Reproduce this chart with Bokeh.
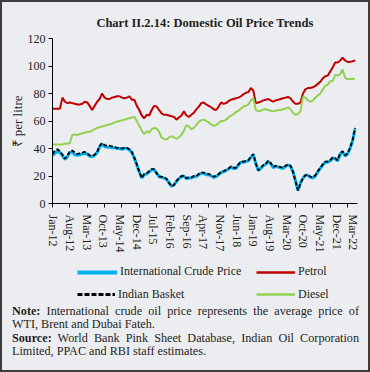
from bokeh.plotting import figure
from bokeh.embed import file_html
from bokeh.resources import INLINE
from bokeh.layouts import column
from bokeh.models import (FixedTicker, CustomJSTickFormatter, Range1d,
                          Legend, LegendItem, Div)

# ---------------- data (monthly, Jan-12 .. Mar-22) ----------------
tick_labels = ["Jan-12", "Aug-12", "Mar-13", "Oct-13", "May-14", "Dec-14", "Jul-15",
               "Feb-16", "Sep-16", "Apr-17", "Nov-17", "Jun-18", "Jan-19", "Aug-19",
               "Mar-20", "Oct-20", "May-21", "Dec-21", "Mar-22"]

petrol = [69, 69, 69, 69, 77, 74, 73, 73.5, 73, 72.5, 72, 72,
          72.5, 74, 73.5, 71, 68, 71, 74, 76, 80, 77, 76, 76,
          77, 77.5, 78, 78, 77, 76.5, 77, 78, 75.5, 75.5, 71, 68,
          64, 62, 64.5, 64, 68, 71, 70.5, 68, 65.5, 64.5, 64.5, 64,
          63.5, 63, 61, 62.5, 64, 67, 64, 63, 64.5, 66, 68.5, 70.5,
          73, 73.5, 72, 71, 70, 68.5, 68, 70.5, 73.5, 72.5, 73, 74.5,
          75.5, 76, 76.5, 77, 78, 79.5, 80.5, 81, 84, 82, 73, 73.5,
          74, 75, 75.5, 76, 75, 74, 75, 75.5, 76, 76.5, 77, 77.5,
          76.5, 74, 72.5, 72.5, 73.5, 80, 83, 84, 84, 84.5, 85.5, 87,
          88.5, 91, 92.5, 93, 96, 99, 102.5, 102.5, 104, 106, 104, 103,
          103, 103.5, 104]

diesel = [43, 43, 43, 43, 43, 43.5, 43.5, 44, 50, 50, 50, 50.5,
          51, 51.5, 52, 52, 53, 54, 55, 55.5, 56, 56.5, 57, 57.5,
          58, 59, 59.5, 60, 60.5, 61, 61.5, 62, 62.5, 63, 60, 56.5,
          53, 50.5, 52.5, 51.5, 54, 55, 54.5, 52, 48, 47, 46.5, 48,
          49, 48, 47, 48, 50, 53, 57, 56, 54, 55, 57, 59.5,
          60.5, 61, 60, 59, 57.5, 56.5, 57, 58.5, 60, 60, 61, 62.5,
          64, 65, 66.5, 67.5, 69, 70.5, 71, 72, 75, 76.5, 68, 67,
          67.5, 68.5, 68.5, 68, 67.5, 67, 67.5, 68, 68, 68.5, 69, 70,
          68.5, 66, 64.5, 65, 67, 77.5, 77, 75, 74, 75, 77, 78.5,
          80, 83, 85.5, 86.5, 89, 89, 93.5, 93, 94, 97.5, 91.5, 90.5,
          90.5, 90.5, 91]

intl_crude = [35, 36.5, 38, 37, 35, 32, 34, 37, 37.5, 35.5, 35, 35.5,
              36, 36.5, 36, 34.5, 34, 35, 37, 41, 43, 41.5, 41, 41,
              40.5, 40.5, 40, 40, 39.5, 40, 40, 39, 37, 33, 28, 23,
              18.5, 21, 21.5, 23, 24.5, 24.5, 22, 19.5, 19, 18.5, 17.5, 15,
              12.5, 13.5, 16, 18, 19.5, 20, 18, 18.5, 18.5, 19.5, 19.5, 21,
              22, 22, 21, 21, 20, 19, 19.5, 21, 22.5, 23, 24, 25,
              26.5, 25.5, 25.5, 28, 30, 30, 30.5, 31, 33.5, 35.5, 29, 24,
              25.5, 27.5, 28.5, 30.5, 29, 26, 27, 26.5, 26, 25.5, 27, 28,
              27, 23, 16.5, 9.5, 15, 18.5, 20.5, 20.5, 19, 18.5, 20, 23,
              25.5, 28, 30, 30, 31, 33, 32.5, 31, 36, 37.5, 34.5, 36,
              40, 45.5, 54]

indian_basket = [36, 38.5, 39.5, 38, 35.5, 32.5, 35, 38, 38.5, 37, 36, 36.5,
                 37, 37.5, 36.5, 35, 34.5, 35.5, 37.5, 42, 44, 42.5, 42, 42,
                 41.5, 41, 40.5, 40.5, 40, 40.5, 40.5, 39.5, 37.5, 33.5, 28.5, 23,
                 18.5, 21.5, 22, 23.5, 25, 25, 22, 19.5, 19.5, 19, 18, 15,
                 12.5, 13.5, 16.5, 18.5, 20, 20, 18.5, 19, 19, 20, 20, 21.5,
                 22.5, 22.5, 21.5, 21.5, 20.5, 19.5, 20, 21.5, 23, 23.5, 24.5, 25.5,
                 27, 26, 26, 28.5, 30.5, 30.5, 31, 31.5, 34, 36, 29, 24,
                 26, 28, 29, 31, 29.5, 26.5, 27.5, 27, 26.5, 26, 27.5, 28.5,
                 27.5, 23, 16, 9.5, 14.5, 18.5, 20.5, 21, 19.5, 19, 20.5, 23.5,
                 26, 28.5, 30.5, 30.5, 31.5, 33.5, 33, 31.5, 36.5, 38, 35, 36.5,
                 40.5, 46, 55]

series_names = ["International Crude Price", "Petrol", "Indian Basket", "Diesel"]

months = list(range(len(petrol)))

# ---------------- styling ----------------
BG = "#ECEDF1"
FONT = "Liberation Serif"
TXT = "#231F20"
C_CRUDE, C_PETROL, C_BASKET, C_DIESEL = "#00B0F0", "#C00000", "black", "#92D050"

p = figure(width=366, height=253, x_range=Range1d(0, 123), y_range=Range1d(0, 120),
           output_backend="svg", toolbar_location=None,
           min_border_left=50, min_border_right=11, min_border_top=36, min_border_bottom=48,
           background_fill_color=BG, border_fill_color=BG)
p.outline_line_color = None
p.grid.visible = False

p.title.text = "Chart II.2.14: Domestic Oil Price Trends"
p.title.align = "center"
p.title.text_font = FONT
p.title.text_font_size = "12.5px"
p.title.text_font_style = "bold"
p.title.text_color = TXT
p.title.standoff = 18

p.line(months, intl_crude, line_color=C_CRUDE, line_width=3)
p.line(months, indian_basket, line_color=C_BASKET, line_width=1.8, line_dash="4 2")
p.line(months, petrol, line_color=C_PETROL, line_width=2)
p.line(months, diesel, line_color=C_DIESEL, line_width=2)

# x axis: tick marks every 7 months (minor), labels evenly spread (major)
label_pos = [0.4 + k * 6.72 for k in range(len(tick_labels))]
xa = p.xaxis[0]
xa.ticker = FixedTicker(ticks=label_pos, minor_ticks=list(range(0, 120, 7)))
xa.formatter = CustomJSTickFormatter(args=dict(labels=tick_labels), code="return labels[index];")
xa.major_tick_out = 0
xa.major_tick_in = 0
xa.minor_tick_out = 4
xa.minor_tick_in = 0
xa.minor_tick_line_color = "black"
xa.axis_line_color = "black"
xa.major_label_orientation = "vertical"
xa.major_label_standoff = 7
xa.major_label_text_font = FONT
xa.major_label_text_font_size = "12px"
xa.major_label_text_color = TXT

ya = p.yaxis[0]
ya.ticker = FixedTicker(ticks=[0, 20, 40, 60, 80, 100, 120])
ya.minor_tick_line_color = None
ya.major_tick_out = 4
ya.major_tick_in = 0
ya.major_tick_line_color = "black"
ya.axis_line_color = "black"
ya.major_label_standoff = 3
ya.major_label_text_font = FONT
ya.major_label_text_font_size = "12px"
ya.major_label_text_color = TXT
ya.axis_label = "₹ per litre"
ya.axis_label_standoff = 0
ya.axis_label_text_font = FONT
ya.axis_label_text_font_size = "13px"
ya.axis_label_text_font_style = "normal"
ya.axis_label_text_color = TXT

# ---------------- legend strip ----------------
# the series are drawn again here, but outside this strip's visible ranges,
# so only their legend samples show
pl = figure(width=366, height=50, x_range=Range1d(0, 1), y_range=Range1d(-2, -1),
            output_backend="svg", toolbar_location=None,
            x_axis_location=None, y_axis_location=None,
            min_border_left=0, min_border_right=0, min_border_top=0, min_border_bottom=0,
            background_fill_color=BG, border_fill_color=BG)
pl.outline_line_color = None
pl.grid.visible = False

lr_crude = pl.line(months, intl_crude, line_color=C_CRUDE, line_width=4)
lr_petrol = pl.line(months, petrol, line_color=C_PETROL, line_width=2.5)
lr_basket = pl.line(months, indian_basket, line_color=C_BASKET, line_width=3, line_dash="5 2")
lr_diesel = pl.line(months, diesel, line_color=C_DIESEL, line_width=2.5)

def add_legend(name, rend, loc, gw):
    lg = Legend(items=[LegendItem(label=name, renderers=[rend])], location=loc,
                orientation="horizontal", padding=0, margin=0, spacing=0,
                glyph_width=gw, glyph_height=14, label_height=14, label_standoff=3,
                border_line_alpha=0, background_fill_alpha=0,
                label_text_font=FONT, label_text_font_size="12px", label_text_color=TXT)
    pl.add_layout(lg, "center")

add_legend(series_names[0], lr_crude, (25, 26), 40)
add_legend(series_names[1], lr_petrol, (204, 26), 39)
add_legend(series_names[2], lr_basket, (25, 3.5), 38)
add_legend(series_names[3], lr_diesel, (204, 3.5), 39)

notes_html = (
    '<div style="margin-left:10px;width:347px;font-family:\'Liberation Serif\';'
    'font-size:12.2px;line-height:13.3px;color:#231F20;">'
    '<div style="text-align:justify;text-align-last:justify;white-space:nowrap;">'
    '<b>Note:</b> International crude oil price represents the average price of</div>'
    '<div>WTI, Brent and Dubai Fateh.</div>'
    '<div style="text-align:justify;text-align-last:justify;white-space:nowrap;">'
    '<b>Source:</b> World Bank Pink Sheet Database, Indian Oil Corporation</div>'
    '<div>Limited, PPAC and RBI staff estimates.</div>'
    '</div>'
)
notes = Div(text=notes_html, width=366, height=65,
            styles={"background-color": BG, "margin": "0", "padding": "0"})

layout = column(p, pl, notes, spacing=0,
                styles={"border": "2px solid #3C3C3C", "background-color": BG})

open("out.html", "w").write(file_html(layout, INLINE))
